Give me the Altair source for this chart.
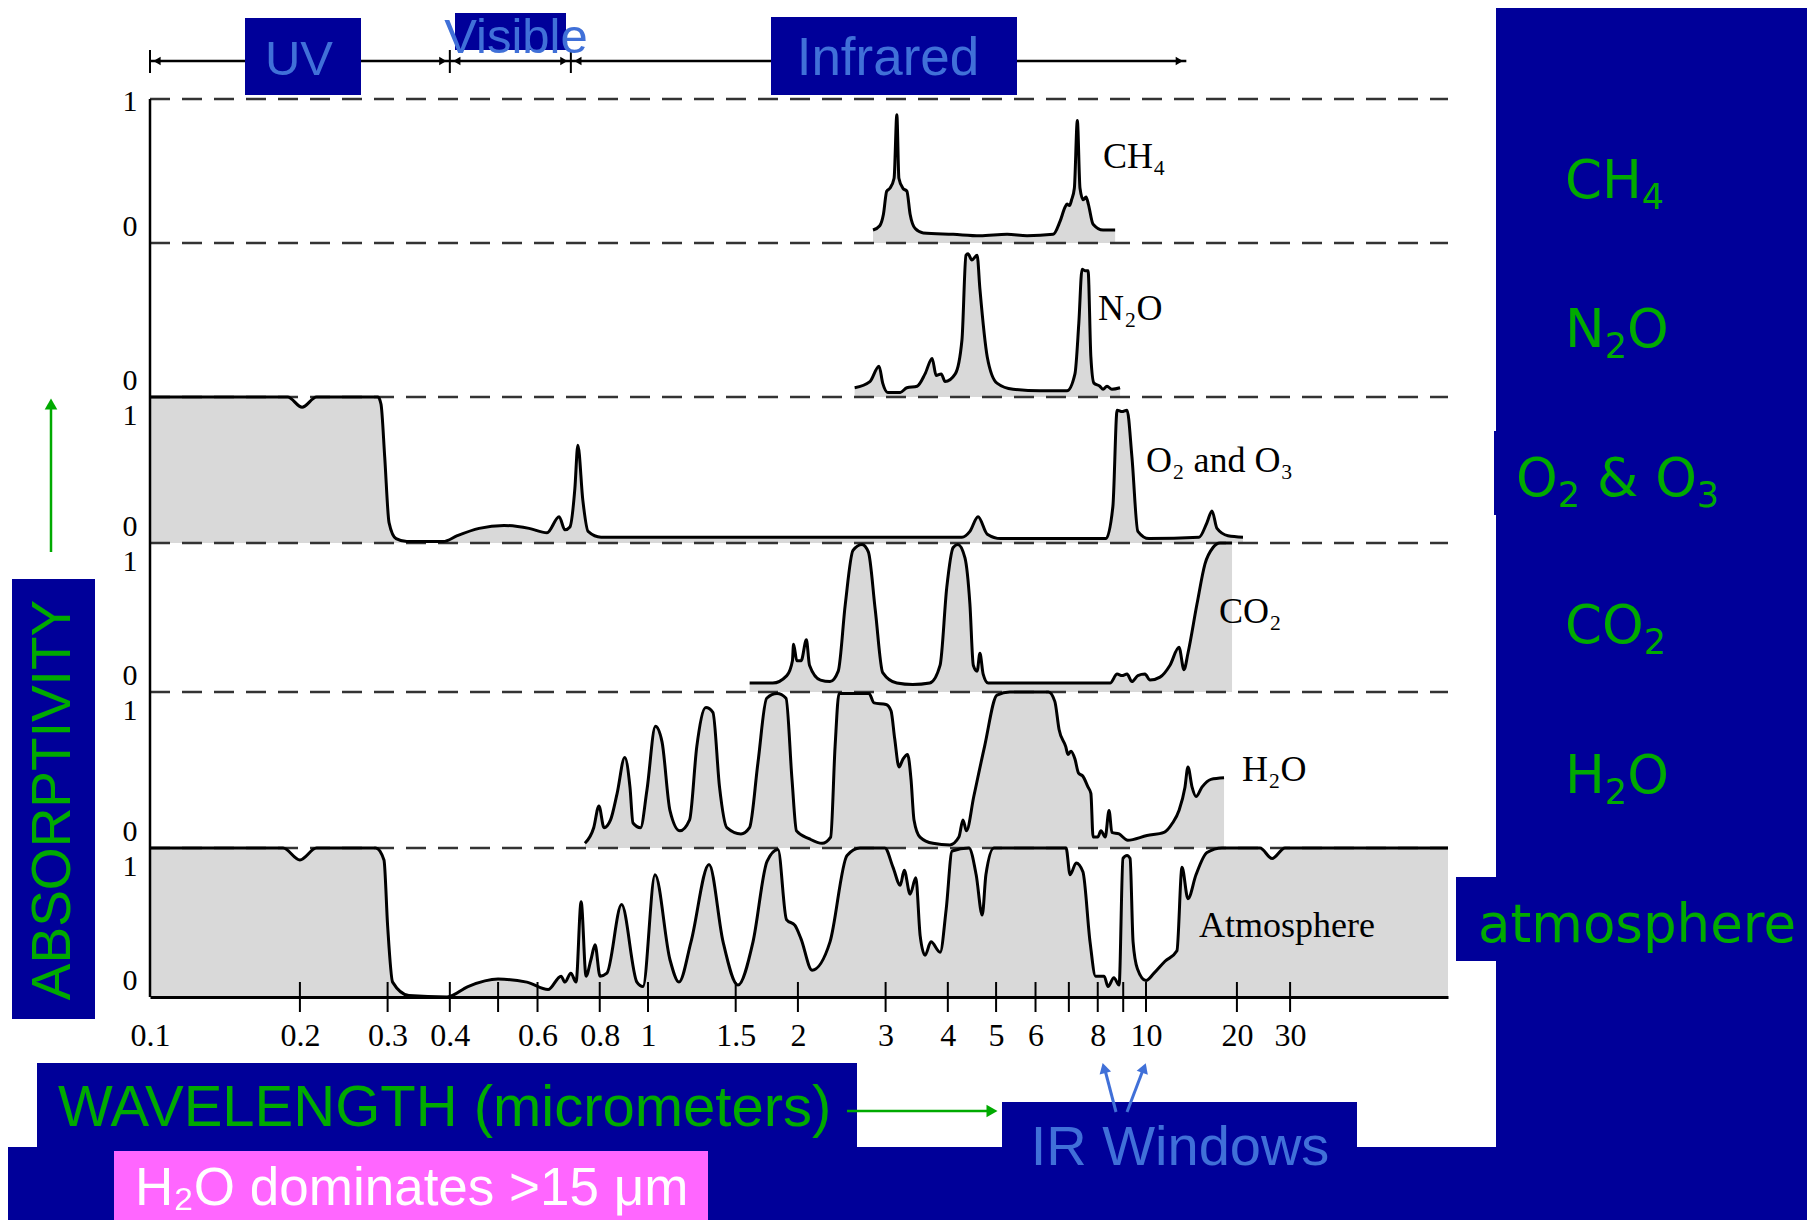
import altair as alt
import pandas as pd

# ---------------- data ----------------
panel_names = ["Atmosphere", "H2O", "CO2", "O2 and O3", "N2O", "CH4"]  # bottom -> top

atm_wl = [0.1, 0.185, 0.2, 0.216, 0.284, 0.295, 0.300, 0.307, 0.331, 0.395,
          0.435, 0.500, 0.571, 0.630, 0.669, 0.681, 0.700, 0.717, 0.734, 0.751,
          0.768, 0.783, 0.801, 0.827, 0.885, 0.950, 0.977, 1.033, 1.107, 1.154,
          1.220, 1.326, 1.415, 1.516, 1.625, 1.734, 1.824, 1.897, 1.973, 2.029,
          2.135, 2.32, 2.51, 2.665, 2.99, 3.105, 3.21, 3.27, 3.36, 3.45,
          3.52, 3.60, 3.70, 3.86, 3.97, 4.08, 4.41, 4.56, 4.69, 4.77,
          4.95, 6.91, 7.04, 7.24, 7.47, 7.72, 7.92, 8.24, 8.39, 8.62,
          8.83, 8.99, 9.16, 9.29, 9.42, 9.61, 10.0, 10.63, 11.56, 12.66,
          13.16, 13.77, 14.64, 15.92, 17.85, 23.85, 26.14, 28.86, 100]
atm_ab = [1.0, 1.0, 0.92, 1.0, 1.0, 0.92, 0.48, 0.10, 0.01, 0.0,
          0.07, 0.12, 0.10, 0.05, 0.14, 0.10, 0.16, 0.10, 0.64, 0.14,
          0.25, 0.35, 0.14, 0.16, 0.62, 0.10, 0.07, 0.82, 0.25, 0.10,
          0.37, 0.89, 0.37, 0.08, 0.37, 0.91, 0.99, 0.52, 0.48, 0.39,
          0.18, 0.37, 0.95, 1.0, 1.0, 0.87, 0.75, 0.85, 0.69, 0.80,
          0.41, 0.28, 0.37, 0.30, 0.59, 0.98, 1.0, 0.82, 0.55, 0.82,
          1.0, 1.0, 0.82, 0.90, 0.84, 0.37, 0.14, 0.14, 0.07, 0.13,
          0.08, 0.93, 0.95, 0.93, 0.37, 0.19, 0.11, 0.16, 0.24, 0.31,
          0.87, 0.66, 0.82, 0.97, 1.0, 1.0, 0.93, 1.0, 1.0]

h2o_wl = [0.747, 0.778, 0.797, 0.816, 0.841, 0.867, 0.898, 0.920, 0.933, 0.966,
          0.995, 1.035, 1.067, 1.107, 1.159, 1.212, 1.253, 1.307, 1.350, 1.392,
          1.440, 1.537, 1.599, 1.663, 1.731, 1.816, 1.893, 1.946, 1.987, 2.105,
          2.236, 2.327, 2.375, 2.419, 2.779, 2.844, 3.006, 3.076, 3.129, 3.192,
          3.251, 3.321, 3.374, 3.421, 3.517, 3.735, 4.04, 4.21, 4.29, 4.36,
          4.51, 4.74, 5.02, 5.33, 6.37, 6.56, 6.69, 6.90, 6.97, 7.07,
          7.20, 7.32, 7.47, 7.65, 7.75, 7.83, 8.00, 8.12, 8.28, 8.43,
          8.54, 8.83, 9.19, 10.08, 11.47, 12.24, 12.86, 13.46, 13.77, 14.21,
          14.64, 15.32, 16.41, 18.13]
h2o_ab = [0.03, 0.13, 0.27, 0.13, 0.18, 0.35, 0.58, 0.39, 0.16, 0.13,
          0.37, 0.78, 0.68, 0.24, 0.11, 0.18, 0.65, 0.90, 0.87, 0.39,
          0.13, 0.09, 0.13, 0.55, 0.96, 0.99, 0.96, 0.44, 0.11, 0.06,
          0.03, 0.07, 0.65, 0.99, 0.99, 0.93, 0.92, 0.88, 0.70, 0.52,
          0.57, 0.60, 0.44, 0.18, 0.07, 0.03, 0.02, 0.07, 0.18, 0.11,
          0.33, 0.65, 0.98, 1.0, 1.0, 0.94, 0.76, 0.65, 0.60, 0.62,
          0.57, 0.48, 0.46, 0.39, 0.35, 0.07, 0.07, 0.11, 0.07, 0.24,
          0.10, 0.09, 0.05, 0.08, 0.10, 0.16, 0.24, 0.39, 0.52, 0.39,
          0.33, 0.39, 0.44, 0.45]

co2_wl = [1.60, 1.78, 1.90, 1.95, 1.96, 1.99, 2.03, 2.08, 2.11, 2.22,
          2.32, 2.41, 2.49, 2.58, 2.69, 2.77, 2.86, 2.96, 3.16, 3.40,
          3.68, 3.86, 3.98, 4.10, 4.19, 4.33, 4.43, 4.50, 4.58, 4.64,
          4.71, 4.82, 8.47, 8.75, 8.95, 9.16, 9.37, 9.63, 9.95, 10.31,
          11.13, 12.01, 12.86, 13.36, 13.77, 14.75, 15.68, 16.67, 17.58, 19.27]
co2_ab = [0.06, 0.06, 0.11, 0.21, 0.32, 0.21, 0.21, 0.35, 0.18, 0.08,
          0.07, 0.14, 0.59, 0.95, 0.99, 0.94, 0.55, 0.13, 0.06, 0.05,
          0.06, 0.18, 0.70, 0.97, 0.99, 0.90, 0.59, 0.18, 0.14, 0.26,
          0.12, 0.06, 0.06, 0.12, 0.11, 0.12, 0.07, 0.11, 0.12, 0.08,
          0.10, 0.18, 0.30, 0.15, 0.26, 0.59, 0.86, 0.97, 1.0, 1.0]

o3_wl = [0.1, 0.189, 0.202, 0.216, 0.287, 0.291, 0.296, 0.302, 0.312, 0.328,
         0.388, 0.414, 0.458, 0.514, 0.577, 0.627, 0.663, 0.681, 0.697, 0.713,
         0.723, 0.740, 0.758, 0.805, 4.27, 4.43, 4.60, 4.80, 5.11, 8.31,
         8.58, 8.75, 8.95, 9.16, 9.37, 9.63, 10.23, 14.98, 15.92, 16.54,
         17.18, 18.68, 20.95]
o3_ab = [1.0, 1.0, 0.93, 1.0, 1.0, 0.95, 0.59, 0.14, 0.03, 0.01,
         0.01, 0.05, 0.10, 0.12, 0.10, 0.07, 0.18, 0.09, 0.11, 0.37,
         0.67, 0.29, 0.08, 0.04, 0.04, 0.08, 0.18, 0.06, 0.03, 0.03,
         0.25, 0.91, 0.90, 0.91, 0.59, 0.08, 0.03, 0.04, 0.14, 0.22,
         0.10, 0.05, 0.04]

n2o_wl = [2.60, 2.79, 2.91, 2.96, 3.03, 3.21, 3.31, 3.47, 3.60, 3.72,
          3.79, 3.88, 3.95, 4.14, 4.27, 4.35, 4.39, 4.47, 4.58, 4.64,
          4.80, 5.02, 5.41, 6.13, 6.94, 7.20, 7.33, 7.44, 7.54, 7.65,
          7.75, 7.86, 8.08, 8.20, 8.35, 8.54, 8.87]
n2o_ab = [0.06, 0.10, 0.20, 0.09, 0.03, 0.03, 0.06, 0.07, 0.15, 0.25,
          0.14, 0.15, 0.10, 0.15, 0.37, 0.92, 0.93, 0.89, 0.92, 0.70,
          0.26, 0.09, 0.05, 0.04, 0.04, 0.15, 0.48, 0.83, 0.82, 0.82,
          0.26, 0.09, 0.07, 0.05, 0.07, 0.05, 0.06]

ch4_wl = [2.83, 2.92, 2.97, 3.015, 3.06, 3.12, 3.16, 3.19, 3.25, 3.31,
          3.36, 3.44, 3.57, 4.10, 4.64, 5.26, 5.77, 6.51, 6.72, 6.88,
          6.94, 7.02, 7.09, 7.18, 7.28, 7.37, 7.48, 7.58, 7.66, 7.83,
          8.20, 8.67]
ch4_ab = [0.09, 0.12, 0.20, 0.36, 0.38, 0.45, 0.89, 0.45, 0.38, 0.36,
          0.20, 0.10, 0.07, 0.06, 0.05, 0.06, 0.05, 0.06, 0.15, 0.25,
          0.27, 0.26, 0.30, 0.38, 0.85, 0.38, 0.30, 0.32, 0.27, 0.13,
          0.09, 0.09]

x_label_values = [0.1, 0.2, 0.3, 0.4, 0.6, 0.8, 1, 1.5, 2, 3, 4, 5, 6, 8, 10, 20, 30]
x_tick_values = [0.2, 0.3, 0.4, 0.5, 0.6, 0.8, 1, 1.5, 2, 3, 4, 5, 6, 7, 8, 9, 10, 20, 30]
wl_min, wl_max = 0.1, 100
band_names = ["UV", "Visible", "Infrared"]
band_edges = [0.1, 0.4, 0.7, 13.6]

# ---------------- tables ----------------
series = [atm_wl, h2o_wl, co2_wl, o3_wl, n2o_wl, ch4_wl]
values = [atm_ab, h2o_ab, co2_ab, o3_ab, n2o_ab, ch4_ab]
rows = []
for i, (name, wl, ab) in enumerate(zip(panel_names, series, values)):
    for k, (w, a) in enumerate(zip(wl, ab)):
        rows.append({"panel": name, "base": i, "wl": w, "yv": i + a, "k": k})
spec_df = pd.DataFrame(rows)

n_pan = len(panel_names)
sep_df = pd.DataFrame({"yv": list(range(1, n_pan + 1)), "wl": [wl_min] * n_pan, "wl2": [wl_max] * n_pan})
left_df = pd.DataFrame({"wl": [wl_min], "yv": [0], "yv2": [n_pan]})
tick_df = pd.DataFrame({"wl": x_tick_values})
zero_df = pd.DataFrame({"yv": list(range(0, n_pan))})
one_df = pd.DataFrame({"yv": [1, 2, 3, 4]})
top_df = pd.DataFrame({"yv": [n_pan]})
band_df = pd.DataFrame({"band": band_names, "wl": band_edges[:-1], "wl2": band_edges[1:]})
bar_df = pd.DataFrame({"wl": band_edges[:-1]})
dummy = pd.DataFrame({"k": [0]})

# ---------------- styling ----------------
BG = "#000099"
GREEN = "#00AA00"
LBLUE = "#4070D8"
SANS = "Liberation Sans"
SERIF = "Liberation Serif"
DJ = "DejaVu Sans"

W, H = 1799, 1212
xscale = alt.Scale(type="log", domain=[0.1, 10, 100], range=[142, 1138, 1440], nice=False)
yscale = alt.Scale(domain=[0, 1, 2, 3, 4, 5, 6], range=[989, 840, 684, 535, 389, 235, 91],
                   nice=False, zero=False)
xaxis = alt.Axis(values=x_label_values, labelExpr="'' + datum.value", ticks=False, tickSize=0,
                 domain=True, domainColor="black", domainWidth=3, grid=False,
                 labelFont=SERIF, labelFontSize=32, labelColor="black", labelBaseline="middle",
                 labelPadding=38, labelOverlap=False, labelFlush=False, labelBound=False,
                 title=None, offset=989 - H, orient="bottom", zindex=2)
X = alt.X("wl:Q", scale=xscale, axis=xaxis)
Y = alt.Y("yv:Q", scale=yscale, axis=None)
Y_area = alt.Y("yv:Q", scale=yscale, axis=None, stack=None)


def box(x1, y1, x2, y2, color):
    return alt.Chart(dummy).mark_rect(color=color).encode(
        x=alt.value(x1), x2=alt.value(x2), y=alt.value(y1), y2=alt.value(y2))


def txt(s, x, y, size, color, font, align="left", baseline="alphabetic", angle=None):
    kw = dict(text=s, fontSize=size, color=color, font=font, align=align, baseline=baseline)
    if angle is not None:
        kw["angle"] = angle
    return alt.Chart(dummy).mark_text(**kw).encode(x=alt.value(x), y=alt.value(y))


def chem(parts, x, y, size, color, font, widths):
    """Formula with real subscripts: parts = [(text, is_sub)], advance widths in em."""
    out = []
    cx = x
    for (s, sub), w in zip(parts, widths):
        fs = size * 0.66 if sub else size
        if s.strip():
            out.append(txt(s, cx, y + (size * 0.2 if sub else 0), fs, color, font))
        cx += w * fs
    return out


def seg(x1, y1, x2, y2, color, width):
    return alt.Chart(dummy).mark_rule(color=color, strokeWidth=width).encode(
        x=alt.value(x1), x2=alt.value(x2), y=alt.value(y1), y2=alt.value(y2))


def head(x, y, shape, color, size, angle=0):
    return alt.Chart(dummy).mark_point(shape=shape, filled=True, color=color, size=size,
                                       opacity=1, angle=angle).encode(
        x=alt.value(x), y=alt.value(y))


layers = []
# white slide panel
layers.append(box(0, 0, 1488, 1139, "white"))

# spectra
base = alt.Chart(spec_df)
layers.append(base.mark_area(fill="#d9d9d9", opacity=1, interpolate="monotone").encode(
    x=X, y=Y_area, y2="base:Q", detail="panel:N"))
layers.append(alt.Chart(sep_df).mark_rule(color="#333333", strokeWidth=2.5, strokeDash=[20, 12]).encode(
    x=X, x2="wl2:Q", y=Y))
layers.append(base.mark_line(color="black", strokeWidth=3, interpolate="monotone").encode(
    x=X, y=Y, detail="panel:N", order="k:Q"))
layers.append(alt.Chart(left_df).mark_rule(color="black", strokeWidth=2.5).encode(
    x=X, y=Y, y2="yv2:Q"))
layers.append(alt.Chart(tick_df).mark_rule(color="black", strokeWidth=2).encode(
    x=X, y=alt.value(974), y2=alt.value(1004)))

# 0 / 1 labels on the left
layers.append(alt.Chart(zero_df).mark_text(text="0", font=SERIF, fontSize=30, color="black",
                                           baseline="middle", dy=-16).encode(x=alt.value(122), y=Y))
layers.append(alt.Chart(one_df).mark_text(text="1", font=SERIF, fontSize=30, color="black",
                                          baseline="middle", dy=19).encode(x=alt.value(122), y=Y))
layers.append(alt.Chart(top_df).mark_text(text="1", font=SERIF, fontSize=30, color="black",
                                          baseline="middle", dy=3).encode(x=alt.value(122), y=Y))

# gas names inside the plot
layers += [
    txt("CH\u2084", 1095, 160, 36, "black", SERIF),
    txt("N\u2082O", 1090, 312, 36, "black", SERIF),
    txt("O\u2082 and O\u2083", 1138, 464, 36, "black", SERIF),
    txt("CO\u2082", 1211, 615, 36, "black", SERIF),
    txt("H\u2082O", 1234, 773, 36, "black", SERIF),
    txt("Atmosphere", 1191, 929, 36, "black", SERIF),
]

# spectral band arrows at the top
layers.append(alt.Chart(band_df).mark_rule(color="black", strokeWidth=2.5).encode(
    x=X, x2="wl2:Q", y=alt.value(53)))
layers.append(alt.Chart(bar_df).mark_rule(color="black", strokeWidth=2).encode(
    x=X, y=alt.value(42), y2=alt.value(65)))
layers.append(alt.Chart(band_df).mark_point(shape="triangle-left", filled=True, color="black",
                                            size=70, opacity=1).encode(
    x=X, y=alt.value(53), xOffset=alt.value(7)))
layers.append(alt.Chart(band_df).mark_point(shape="triangle-right", filled=True, color="black",
                                            size=70, opacity=1).encode(
    x=alt.X("wl2:Q", scale=xscale, axis=xaxis), y=alt.value(53), xOffset=alt.value(-7)))

# dark blue annotation boxes
layers += [
    box(237, 10, 353, 87, BG),        # UV
    box(447, 5, 558, 42, BG),         # Visible
    box(763, 9, 1009, 87, BG),        # Infrared
    box(4, 571, 87, 1011, BG),        # ABSORPTIVITY
    box(29, 1055, 849, 1139, BG),     # WAVELENGTH
    box(994, 1094, 1349, 1139, BG),   # IR Windows
    box(1486, 423, 1807, 507, BG),    # O2 & O3
    box(1448, 869, 1807, 953, BG),    # atmosphere
    box(106, 1143, 700, 1230, "#FF66FF"),  # pink note
]

layers += [
    txt("UV", 291, 67, 49, LBLUE, SANS, align="center"),
    txt("Visible", 508, 45, 49, LBLUE, SANS, align="center"),
    txt("Infrared", 880, 67, 53, LBLUE, SANS, align="center"),
    txt("ABSORPTIVITY", 45, 792, 55, GREEN, SANS, align="center", baseline="middle", angle=270),
    txt("WAVELENGTH (micrometers)", 50, 1118, 58, GREEN, SANS),
    txt("IR Windows", 1172, 1157, 56, LBLUE, SANS, align="center"),
    txt("H\u2082O dominates >15 \u03bcm", 127, 1197, 53, "white", SANS),
    txt("atmosphere", 1470, 934, 53, GREEN, DJ),
]
layers += chem([("CH", False), ("4", True)], 1557, 190, 53, GREEN, DJ, [1.45, 0.64])
layers += chem([("N", False), ("2", True), ("O", False)], 1557, 339, 53, GREEN, DJ, [0.748, 0.64, 0.79])
layers += chem([("O", False), ("2", True), (" ", False), ("&", False), (" ", False), ("O", False), ("3", True)],
               1508, 488, 53, GREEN, DJ, [0.787, 0.64, 0.318, 0.78, 0.318, 0.787, 0.64])
layers += chem([("CO", False), ("2", True)], 1557, 635, 53, GREEN, DJ, [1.485, 0.64])
layers += chem([("H", False), ("2", True), ("O", False)], 1557, 785, 53, GREEN, DJ, [0.752, 0.64, 0.79])

# arrows
layers += [
    seg(43, 400, 43, 544, GREEN, 2.5),
    head(43, 396, "triangle-up", GREEN, 160),
    seg(839, 1103, 980, 1103, GREEN, 2.5),
    head(984, 1103, "triangle-right", GREEN, 160),
    seg(1108, 1104, 1097, 1062, LBLUE, 3),
    head(1096, 1060, "triangle-up", LBLUE, 140, angle=345),
    seg(1119, 1104, 1135, 1062, LBLUE, 3),
    head(1136, 1060, "triangle-up", LBLUE, 140, angle=20),
]

chart = alt.layer(*layers).properties(
    width=W, height=H, padding=0,
    autosize=alt.AutoSizeParams(type="none"),
    background=BG,
).configure_view(strokeWidth=0)

chart.save("out.html", embed_options={"renderer": "svg", "actions": False})
